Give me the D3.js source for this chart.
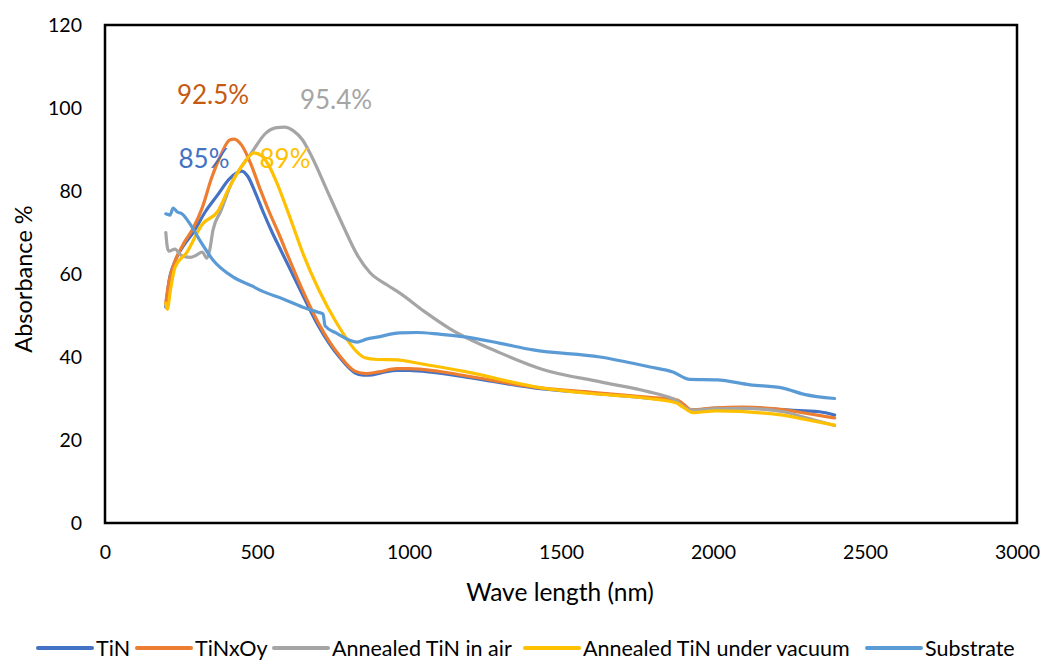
<!DOCTYPE html>
<html>
<head>
<meta charset="utf-8">
<script src="https://cdn.jsdelivr.net/npm/d3@7"></script>
<style>
  html, body { margin: 0; padding: 0; background: #fff; }
  svg { display: block; font-family: Lato, "Open Sans", sans-serif; }
</style>
</head>
<body>
<svg id="chart" width="1045" height="661"></svg>
<script>
// Absorbance spectra, [wavelength nm, absorbance %]
const tin = [[200,52],[210,58],[230,63],[260,67],[290,70],[330,75],[370,79],[410,83],[450,84.8],[470,83.5],[495,79.5],[520,75],[550,70],[580,65.5],[610,61],[648,55.3],[702,47.5],[773,39.8],[822,36.2],[850,35.6],[880,35.7],[920,36.4],[960,36.8],[1000,36.8],[1080,36.3],[1200,35],[1440,32.3],[1600,31.3],[1800,30],[1880,29.4],[1900,28.5],[1930,27.2],[2000,27.6],[2100,27.8],[2230,27.3],[2300,27],[2350,26.8],[2400,26]];
const tinxoy = [[200,53],[210,58],[230,63],[260,67.5],[290,71],[320,76],[350,83],[380,88.5],[410,92.3],[425,92.5],[450,91],[480,86.5],[510,80.5],[540,75],[570,70],[602,64.3],[648,56.4],[702,48.2],[773,40.2],[822,36.6],[860,36],[900,36.4],[960,37.2],[1000,37.2],[1100,36.5],[1200,35.3],[1440,32.5],[1600,31.5],[1800,30.2],[1880,29.7],[1900,28.8],[1930,27.3],[2000,27.7],[2100,27.9],[2230,27.3],[2300,26.5],[2400,25.3]];
const airAnnealed = [[200,70],[205,66.5],[210,65.5],[230,66],[250,64.5],[280,64],[300,64.5],[320,65.3],[335,63.8],[345,66],[355,70.5],[380,75],[420,82.5],[450,86],[480,89],[530,94],[560,95.2],[590,95.4],[620,94.5],[650,92.3],[680,88.3],[730,80.2],[779,72.3],[832,64.3],[872,60.3],[927,57.4],[970,55.4],[1050,51],[1135,46.8],[1300,41],[1440,37],[1630,34],[1790,31.6],[1850,30.4],[1880,29.5],[1900,28.2],[1935,27.2],[2000,27.5],[2100,27.6],[2230,26.8],[2300,25.5],[2400,23.5]];
const vacuumAnnealed = [[200,53],[205,51.5],[215,56],[230,61.5],[270,65.3],[320,72],[370,75],[410,81],[455,86.5],[490,89.2],[515,88.5],[540,86],[565,82],[590,77.3],[614,72.5],[652,64.8],[702,56.4],[762,48.2],[832,41],[855,39.8],[895,39.4],[960,39.3],[1030,38.5],[1190,36.4],[1440,32.5],[1600,31.2],[1790,30],[1880,28.9],[1900,28],[1935,26.6],[2010,27],[2230,26],[2300,25],[2400,23.6]];
const substrate = [[200,74.5],[214,74.2],[224,75.9],[237,75],[253,74.5],[280,72],[313,68],[355,63.4],[421,59.3],[487,57],[510,56.1],[586,54],[651,52],[700,50.8],[717,50.4],[724,47.5],[760,45.8],[829,43.6],[860,44.3],[895,44.8],[970,45.8],[1026,45.9],[1100,45.5],[1191,44.8],[1300,43.3],[1408,41.7],[1628,40],[1793,37.6],[1868,36.4],[1924,34.6],[2013,34.5],[2122,33.3],[2230,32.5],[2300,31],[2400,30]];

const seriesNames = ["TiN", "TiNxOy", "Annealed TiN in air", "Annealed TiN under vacuum", "Substrate"];
const seriesColors = ["#4472C4", "#ED7D31", "#A5A5A5", "#FFC000", "#5B9BD5"];
const seriesData = [tin, tinxoy, airAnnealed, vacuumAnnealed, substrate];

// Peak annotations: [text, wavelength, value, colour]
const peakLabels = [
  ["92.5%", 425, 92.5, "#C55A11"],
  ["95.4%", 590, 95.4, "#A5A5A5"],
  ["85%", 450, 85, "#4472C4"],
  ["89%", 490, 89, "#FFC000"]
];

const xTicks = [0, 500, 1000, 1500, 2000, 2500, 3000];
const yTicks = [0, 20, 40, 60, 80, 100, 120];

const svg = d3.select("#chart");
const plot = { left: 105, top: 25, right: 1017, bottom: 523 };

const x = d3.scaleLinear().domain([0, 3000]).range([plot.left, plot.right]);
const y = d3.scaleLinear().domain([0, 120]).range([plot.bottom, plot.top]);

// tick labels
const xAxis = svg.append("g")
  .attr("transform", `translate(0,${plot.bottom})`)
  .call(d3.axisBottom(x).tickValues(xTicks).tickSize(0).tickPadding(22).tickFormat(d3.format("d")));
xAxis.select(".domain").remove();
xAxis.selectAll("text").attr("font-size", 19.5).attr("fill", "#000").attr("font-family", "Lato");

const yAxis = svg.append("g")
  .attr("transform", `translate(${plot.left},0)`)
  .call(d3.axisLeft(y).tickValues(yTicks).tickSize(0).tickPadding(23).tickFormat(d3.format("d")));
yAxis.select(".domain").remove();
yAxis.selectAll("text").attr("font-size", 19.5).attr("fill", "#000").attr("font-family", "Lato");

// series lines
const line = d3.line().x(d => x(d[0])).y(d => y(d[1])).curve(d3.curveMonotoneX);
svg.append("g").selectAll("path")
  .data(seriesData)
  .join("path")
  .attr("d", line)
  .attr("fill", "none")
  .attr("stroke", (d, i) => seriesColors[i])
  .attr("stroke-width", 3.2)
  .attr("stroke-linejoin", "round")
  .attr("stroke-linecap", "round");

// plot frame
svg.append("rect")
  .attr("x", plot.left).attr("y", plot.top)
  .attr("width", plot.right - plot.left).attr("height", plot.bottom - plot.top)
  .attr("fill", "none").attr("stroke", "#000").attr("stroke-width", 2.5);

// peak value annotations
const labelPos = [[213, 104], [336, 109], [204, 168], [285, 168]];
svg.append("g").selectAll("text")
  .data(peakLabels)
  .join("text")
  .attr("x", (d, i) => labelPos[i][0])
  .attr("y", (d, i) => labelPos[i][1])
  .attr("text-anchor", "middle")
  .attr("font-size", 26)
  .attr("fill", d => d[3])
  .text(d => d[0]);

// axis titles
svg.append("text")
  .attr("x", 560).attr("y", 601)
  .attr("text-anchor", "middle").attr("font-size", 24.5)
  .text("Wave length (nm)");
svg.append("text")
  .attr("transform", `translate(32,279) rotate(-90)`)
  .attr("text-anchor", "middle").attr("font-size", 23.5)
  .text("Absorbance %");

// legend
const legendX = [38, 137, 274, 525, 867];
const legend = svg.append("g");
seriesNames.forEach((name, i) => {
  const g = legend.append("g").attr("transform", `translate(${legendX[i]},648)`);
  g.append("line").attr("x1", 0).attr("x2", 54).attr("y1", 0).attr("y2", 0)
    .attr("stroke", seriesColors[i]).attr("stroke-width", 4).attr("stroke-linecap", "round");
  g.append("text").attr("x", 58).attr("y", 7.5).attr("font-size", 21.5).attr("fill", "#000").text(name);
});
</script>
</body>
</html>
